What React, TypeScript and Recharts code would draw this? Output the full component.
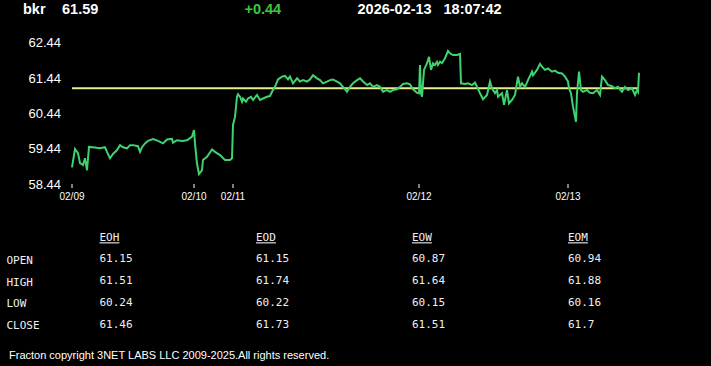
import React from 'react';
import { LineChart, Line, XAxis, YAxis, ReferenceLine } from 'recharts';

// time index (one step per chart slot) and price
const times = [
  0, 3, 6, 8, 11, 13, 15, 17, 21, 28, 33, 35, 38, 41, 45, 48, 51, 55, 58, 61,
  66, 68, 70, 73, 76, 81, 86, 91, 95, 100, 101, 105, 110, 115, 120, 122, 123, 125, 127, 130,
  131, 135, 140, 143, 148, 153, 158, 160, 161, 163, 165, 166, 168, 170, 171, 174, 176, 179, 181, 185,
  188, 191, 195, 198, 200, 203, 206, 210, 213, 216, 218, 221, 225, 228, 231, 235, 238, 241, 245, 248,
  251, 255, 258, 261, 265, 268, 271, 275, 278, 281, 285, 288, 291, 295, 298, 301, 305, 308, 311, 315,
  318, 321, 325, 328, 331, 335, 338, 341, 345, 347, 348, 349, 350, 352, 355, 357, 359, 361, 363, 365,
  366, 368, 370, 373, 376, 378, 381, 385, 388, 389, 393, 396, 400, 403, 405, 408, 411, 415, 418, 420,
  423, 425, 426, 430, 432, 435, 437, 440, 443, 446, 448, 450, 453, 456, 460, 461, 465, 468, 470, 473,
  476, 480, 483, 486, 490, 493, 496, 497, 499, 501, 504, 505, 507, 509, 511, 515, 518, 521, 525, 528,
  530, 533, 536, 540, 543, 546, 550, 553, 556, 560, 563, 565, 566, 567,
];
const prices = [
  58.91, 59.43, 59.31, 59.03, 58.98, 59.17, 58.83, 59.49, 59.48, 59.45, 59.48, 59.35, 59.17, 59.29, 59.4, 59.54, 59.48, 59.45, 59.54, 59.54,
  59.51, 59.35, 59.48, 59.59, 59.66, 59.71, 59.66, 59.59, 59.7, 59.72, 59.61, 59.68, 59.66, 59.68, 59.78, 59.97, 59.59, 59.02, 58.72, 58.83,
  59.12, 59.21, 59.42, 59.35, 59.26, 59.12, 59.12, 59.17, 60.11, 60.34, 60.91, 60.98, 60.91, 60.77, 60.86, 60.77, 60.86, 60.91, 60.82, 60.96,
  60.82, 60.86, 60.91, 60.93, 61.05, 61.19, 61.4, 61.48, 61.5, 61.4, 61.48, 61.29, 61.43, 61.34, 61.38, 61.34, 61.4, 61.52, 61.43, 61.38,
  61.29, 61.34, 61.38, 61.4, 61.34, 61.29, 61.19, 61.05, 61.19, 61.29, 61.38, 61.43, 61.34, 61.24, 61.29, 61.19, 61.24, 61.19, 61.05, 61.1,
  61.05, 61.1, 61.12, 61.19, 61.27, 61.29, 61.26, 61.12, 61.02, 61.01, 61.81, 61.01, 60.91, 61.67, 61.86, 62.04, 61.67, 61.86, 61.81, 61.9,
  61.81, 61.9, 61.86, 62.0, 62.21, 62.14, 62.09, 62.09, 62.12, 61.29, 61.27, 61.29, 61.24, 61.31, 61.19, 61.01, 60.84, 60.96, 61.34, 61.15,
  61.01, 61.1, 60.91, 61.01, 60.68, 61.1, 60.72, 60.82, 60.96, 61.48, 61.19, 61.29, 61.19, 61.38, 61.62, 61.52, 61.67, 61.84, 61.76, 61.67,
  61.71, 61.62, 61.65, 61.59, 61.57, 61.48, 61.34, 61.15, 61.01, 60.63, 60.2, 61.01, 61.62, 61.1, 61.05, 61.1, 61.02, 61.01, 61.1, 60.96,
  61.48, 61.38, 61.24, 61.21, 61.15, 61.19, 61.05, 61.19, 61.1, 61.15, 60.96, 61.1, 61.05, 61.59,
];

const prevClose = 61.15;
const yTicks = [58.44, 59.44, 60.44, 61.44, 62.44];
const dayTicks = [0, 122, 161, 347, 496];
const dayLabels = ['02/09', '02/10', '02/11', '02/12', '02/13'];

const symbol = 'bkr';
const last = '61.59';
const change = '+0.44';
const date = '2026-02-13';
const clock = '18:07:42';

const columns = ['EOH', 'EOD', 'EOW', 'EOM'];
const rowNames = ['OPEN', 'HIGH', 'LOW', 'CLOSE'];
const eoh = ['61.15', '61.51', '60.24', '61.46'];
const eod = ['61.15', '61.74', '60.22', '61.73'];
const eow = ['60.87', '61.64', '60.15', '61.51'];
const eom = ['60.94', '61.88', '60.16', '61.7'];
const tableCols = [eoh, eod, eow, eom];

const data = times.map((t, i) => ({ t, price: prices[i] }));

const colX = [99.5, 256, 412, 568];
const mono = '"DejaVu Sans Mono", monospace';
const sans = '"Liberation Sans", Arial, sans-serif';

const App = () => {
  return (
    <div style={{ position: 'absolute', left: 0, top: 0, width: 711, height: 366, background: '#000', overflow: 'hidden' }}>
      <LineChart
        width={711}
        height={220}
        data={data}
        margin={{ top: 42.7, right: 72, left: 0, bottom: 6 }}
        style={{ position: 'absolute', left: 0, top: 0 }}
      >
        <XAxis
          dataKey="t"
          type="number"
          domain={[0, 567]}
          ticks={dayTicks}
          tickFormatter={(v) => dayLabels[dayTicks.indexOf(v)] ?? ''}
          axisLine={false}
          tickLine={{ stroke: '#fff' }}
          tickSize={4}
          tickMargin={5}
          height={30}
          tick={{ fill: '#fff', fontSize: 10, fontFamily: sans }}
          interval={0}
        />
        <YAxis
          domain={[58.44, 62.44]}
          ticks={yTicks}
          width={72}
          axisLine={false}
          tickLine={false}
          tickSize={0}
          tickMargin={11}
          tick={{ fill: '#fff', fontSize: 13, fontFamily: sans }}
          tickFormatter={(v) => v.toFixed(2)}
        />
        <ReferenceLine y={prevClose} stroke="#e2ef8c" strokeWidth={2} />
        <Line
          type="linear"
          dataKey="price"
          stroke="#3fd26f"
          strokeWidth={2}
          dot={false}
          isAnimationActive={false}
        />
      </LineChart>
      <svg width={711} height={366} style={{ position: 'absolute', left: 0, top: 0, pointerEvents: 'none' }}>
        <g fontFamily={sans} fontWeight="bold" fontSize={14.5}>
          <text x={23} y={14} fill="#fff">{symbol}</text>
          <text x={62} y={14} fill="#fff">{last}</text>
          <text x={244.5} y={14} fill="#3cc83c">{change}</text>
          <text x={357.5} y={14} fill="#fff">{date}</text>
          <text x={443.5} y={14} fill="#fff">{clock}</text>
        </g>
        <g fontFamily={mono} fontSize={11} fill="#f0f0f0">
          {columns.map((c, i) => (
            <text key={c} x={colX[i]} y={241.3} style={{ textDecoration: 'underline' }}>{c}</text>
          ))}
          {rowNames.map((r, j) => (
            <text key={r} x={6.5} y={264 + 21.7 * j}>{r}</text>
          ))}
          {tableCols.map((col, i) =>
            col.map((v, j) => (
              <text key={i + '-' + j} x={colX[i]} y={262.3 + 21.9 * j}>{v}</text>
            ))
          )}
        </g>
        <text x={9} y={359} fill="#fff" fontFamily={sans} fontSize={11}>
          Fracton copyright 3NET LABS LLC 2009-2025.All rights reserved.
        </text>
      </svg>
    </div>
  );
};

export default App;
